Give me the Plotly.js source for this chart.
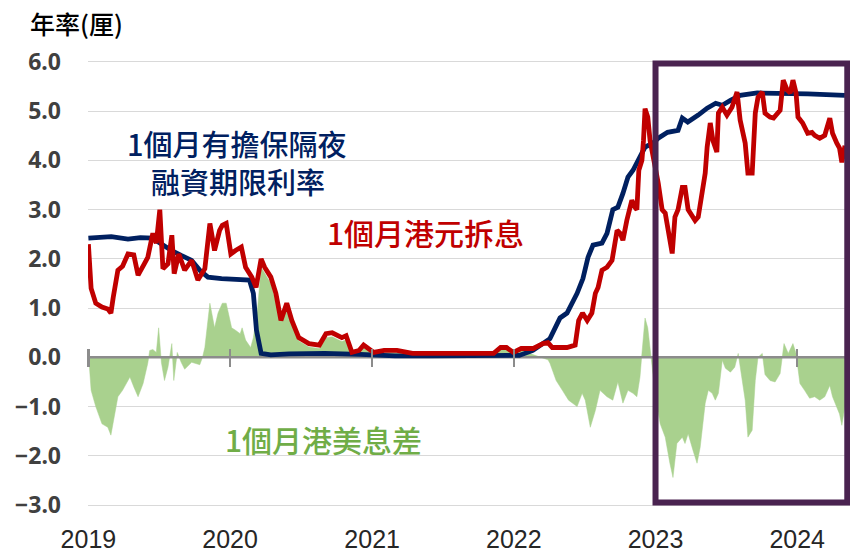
<!DOCTYPE html>
<html>
<head>
<meta charset="utf-8">
<script src="https://cdn.plot.ly/plotly-3.0.1.min.js"></script>
<style>html,body{margin:0;padding:0;background:#fff;}#chart{width:850px;height:556px;}</style>
</head>
<body>
<div id="chart"></div>
<script>
// 1個月港元拆息 (HIBOR 1M)
var hiborDates = ['2019-01-01','2019-01-08','2019-01-20','2019-02-05','2019-02-20','2019-02-28','2019-03-06','2019-03-18','2019-03-30','2019-04-13','2019-04-28','2019-05-09','2019-05-25','2019-06-03','2019-06-16','2019-06-25','2019-07-04','2019-07-12','2019-07-25','2019-08-04','2019-08-10','2019-08-22','2019-09-06','2019-09-24','2019-10-10','2019-10-28','2019-11-10','2019-11-22','2019-12-05','2019-12-12','2019-12-22',
'2020-01-03','2020-01-15','2020-01-30','2020-02-10','2020-02-26','2020-03-08','2020-03-21','2020-03-30','2020-04-15','2020-04-28','2020-05-11','2020-05-26','2020-06-08','2020-06-26','2020-07-22','2020-08-18','2020-09-04','2020-09-20','2020-10-15','2020-10-26','2020-11-10','2020-11-28','2020-12-10',
'2021-01-05','2021-02-01','2021-03-06','2021-04-15','2021-07-12','2021-11-10','2021-11-28','2021-12-13','2021-12-31',
'2022-01-20','2022-02-20','2022-03-17','2022-03-30','2022-04-10','2022-05-18','2022-06-08','2022-06-17','2022-06-27','2022-07-09','2022-07-21','2022-07-30','2022-08-06','2022-08-16','2022-08-29','2022-09-11','2022-09-24','2022-10-02','2022-10-09','2022-10-19','2022-11-01','2022-11-09','2022-11-14','2022-11-19','2022-11-27','2022-12-01','2022-12-05','2022-12-12','2022-12-18',
'2023-01-08','2023-01-18','2023-01-26','2023-02-02','2023-02-13','2023-02-20','2023-02-28','2023-03-11','2023-03-18','2023-03-26','2023-04-13','2023-04-21','2023-05-01','2023-05-09','2023-05-14','2023-05-22','2023-05-29','2023-06-08','2023-06-12','2023-06-22','2023-07-04','2023-07-17','2023-07-30','2023-08-07','2023-08-20','2023-08-27','2023-09-07','2023-09-15','2023-09-22','2023-10-03','2023-10-10','2023-10-23','2023-11-01','2023-11-10','2023-11-18','2023-11-26','2023-12-06','2023-12-14','2023-12-21','2023-12-29',
'2024-01-03','2024-01-15','2024-01-28','2024-02-08','2024-02-15','2024-02-28','2024-03-12','2024-03-25','2024-04-01','2024-04-12','2024-04-19','2024-04-25','2024-04-30','2024-05-03'];
var hiborVals = [2.30,1.40,1.10,1.02,0.98,0.90,1.22,1.77,1.85,2.10,2.08,1.67,1.90,2.03,2.52,2.32,3.00,1.80,1.90,2.48,1.70,2.10,1.77,1.97,1.57,1.80,2.72,2.17,2.58,2.68,2.72,
2.10,2.17,2.24,1.83,1.63,1.42,2.00,1.83,1.63,1.30,0.75,1.10,0.75,0.40,0.28,0.25,0.48,0.50,0.40,0.44,0.10,0.14,0.25,
0.10,0.14,0.14,0.08,0.08,0.08,0.20,0.20,0.10,
0.18,0.18,0.28,0.30,0.20,0.20,0.25,0.75,0.90,0.75,0.90,1.30,1.42,1.77,1.83,1.97,2.58,2.52,2.38,2.78,3.19,3.05,3.00,3.80,4.00,4.40,5.05,4.88,4.40,
3.54,3.00,2.93,2.58,2.11,2.85,3.00,3.45,3.45,3.00,2.78,2.85,3.33,3.74,4.27,4.76,4.40,4.17,4.96,5.08,4.92,5.08,5.39,4.82,4.35,3.74,3.74,4.96,5.28,5.39,4.96,4.88,4.86,4.96,5.02,5.63,5.43,5.37,5.63,5.37,
4.88,4.76,4.55,4.57,4.51,4.45,4.51,4.86,4.55,4.35,4.25,3.96,4.27,4.30];

// 1個月有擔保隔夜融資期限利率 (Term SOFR 1M)
var sofrDates = ['2019-01-01','2019-03-01','2019-04-13','2019-05-15','2019-06-15','2019-07-04','2019-08-01','2019-08-28','2019-09-24','2019-10-15','2019-11-05','2019-12-10','2020-01-15','2020-02-20','2020-03-01','2020-03-09','2020-03-21','2020-04-15','2020-06-01','2020-09-01','2020-12-01','2021-03-01','2021-06-01','2021-09-01','2021-12-01','2022-01-15','2022-02-19','2022-03-17','2022-04-04','2022-04-30','2022-05-18','2022-06-13','2022-06-21','2022-06-28','2022-07-11','2022-07-24','2022-08-16','2022-08-29','2022-09-13','2022-09-26','2022-10-09','2022-10-22','2022-11-04','2022-11-22','2022-12-05','2022-12-25','2023-01-08','2023-02-01','2023-02-28','2023-03-11','2023-03-25','2023-04-21','2023-05-14','2023-06-05','2023-06-22','2023-07-13','2023-08-07','2023-09-20','2023-11-01','2024-01-28','2024-05-03'];
var sofrVals = [2.42,2.45,2.40,2.43,2.42,2.32,2.18,2.07,1.97,1.77,1.63,1.60,1.58,1.57,1.30,0.55,0.08,0.05,0.07,0.08,0.06,0.03,0.03,0.04,0.05,0.04,0.14,0.30,0.38,0.80,0.90,1.30,1.50,1.60,2.03,2.28,2.32,2.52,3.00,3.05,3.33,3.66,3.80,4.07,4.27,4.35,4.45,4.57,4.61,4.86,4.78,4.92,5.06,5.16,5.12,5.22,5.32,5.37,5.37,5.35,5.32];

// 1個月港美息差 (spread)
var spreadDates = ['2019-01-01','2019-01-03','2019-01-08','2019-01-20','2019-02-05','2019-02-20','2019-02-28','2019-03-12','2019-03-18','2019-03-30','2019-04-18','2019-04-28','2019-05-09','2019-05-22','2019-06-03','2019-06-08','2019-06-16','2019-06-25','2019-07-01','2019-07-08','2019-07-16','2019-07-25','2019-08-04','2019-08-09','2019-08-18','2019-08-28','2019-09-06','2019-09-24','2019-10-15','2019-10-22','2019-10-28','2019-11-10','2019-11-22','2019-12-01','2019-12-12','2019-12-22',
'2020-01-05','2020-01-15','2020-01-27','2020-02-01','2020-02-10','2020-02-23','2020-03-01','2020-03-12','2020-03-21','2020-04-15','2020-05-05','2020-05-26','2020-06-08','2020-06-26','2020-07-22','2020-08-18','2020-09-04','2020-09-20','2020-10-15','2020-10-26','2020-11-10','2020-11-28','2020-12-10',
'2021-01-05','2021-02-01','2021-03-06','2021-04-15','2021-11-10','2021-11-28','2021-12-13','2021-12-31',
'2022-01-20','2022-02-20','2022-03-17','2022-03-30','2022-04-04','2022-04-20','2022-05-06','2022-05-22','2022-06-13','2022-06-26','2022-07-04','2022-07-17','2022-07-30','2022-08-11','2022-08-29','2022-09-13','2022-09-26','2022-10-09','2022-10-22','2022-11-04','2022-11-14','2022-11-22','2022-11-27','2022-12-05','2022-12-12','2022-12-20',
'2023-01-01','2023-01-13','2023-01-26','2023-02-07','2023-02-15','2023-02-25','2023-03-11','2023-03-18','2023-03-26','2023-04-08','2023-04-18','2023-04-26','2023-05-09','2023-05-17','2023-05-27','2023-06-04','2023-06-12','2023-06-22','2023-06-30','2023-07-13','2023-07-24','2023-08-02','2023-08-12','2023-08-20','2023-08-27','2023-09-07','2023-09-15','2023-09-22','2023-10-03','2023-10-10','2023-10-23','2023-11-05','2023-11-18','2023-11-28','2023-12-09','2023-12-21','2023-12-29',
'2024-01-08','2024-01-20','2024-02-02','2024-02-15','2024-02-28','2024-03-12','2024-03-25','2024-04-01','2024-04-12','2024-04-19','2024-04-25','2024-04-30','2024-05-03'];
var spreadVals = [0.00,-0.12,-0.67,-1.00,-1.35,-1.42,-1.58,-1.08,-0.80,-0.67,-0.40,-0.60,-0.80,-0.53,-0.12,0.14,0.16,0.10,0.60,-0.10,-0.47,-0.20,0.28,-0.47,0.10,-0.10,-0.24,-0.10,-0.15,0.00,0.20,1.10,0.60,0.90,1.10,1.10,
0.60,0.55,0.48,0.60,0.35,0.20,0.40,1.00,1.83,1.50,0.90,1.00,0.68,0.33,0.21,0.18,0.40,0.42,0.32,0.36,0.04,0.08,0.19,
0.06,0.10,0.10,0.05,0.04,0.15,0.15,0.05,
0.14,0.06,-0.02,-0.05,-0.12,-0.47,-0.67,-0.87,-1.00,-0.73,-0.87,-1.42,-1.08,-0.67,-0.80,-0.87,-0.50,-0.93,-0.67,-0.73,-0.80,-0.40,0.08,0.80,0.60,0.00,
-0.80,-1.35,-1.62,-2.15,-2.44,-1.75,-1.62,-1.75,-1.55,-1.90,-2.15,-1.83,-0.93,-0.67,-0.73,-0.87,-0.73,-0.06,-0.22,-0.30,-0.20,0.08,-0.47,-0.87,-1.62,-1.48,-0.47,0.00,0.08,-0.35,-0.47,-0.50,-0.33,0.28,0.08,0.28,0.08,
-0.53,-0.67,-0.83,-0.80,-0.87,-0.80,-0.57,-0.80,-1.00,-1.15,-1.38,-1.15,-1.00];

var yTickVals = [-3,-2,-1,0,1,2,3,4,5,6];
var xRange = ['2018-12-31', '2024-05-16'];

// geometry helpers (pixel -> paper)
var L = 88, W = 762, T = 57, H = 453;
function px(x){ return (x - L) / W; }
function py(y){ return (T + H - y) / H; }

var cjk = '"Noto Sans CJK TC", "Noto Sans CJK SC", sans-serif';

var traces = [
  {x: spreadDates, y: spreadVals, type: 'scatter', mode: 'lines', fill: 'tozeroy', xaxis: 'x', yaxis: 'y',
   fillcolor: '#a9d18e', line: {color: '#a9d18e', width: 0.5}, hoverinfo: 'skip'},
  {x: [spreadDates[0], hiborDates[hiborDates.length-1]], y: [0, 0], type: 'scatter', mode: 'lines', xaxis: 'x2', yaxis: 'y',
   line: {color: '#8c8c8c', width: 2.5}, hoverinfo: 'skip'},
  {x: sofrDates, y: sofrVals, type: 'scatter', mode: 'lines', xaxis: 'x2', yaxis: 'y',
   line: {color: '#002060', width: 4.8}, hoverinfo: 'skip'},
  {x: hiborDates, y: hiborVals, type: 'scatter', mode: 'lines', xaxis: 'x2', yaxis: 'y',
   line: {color: '#c00000', width: 4.8}, hoverinfo: 'skip'}
];

var layout = {
  width: 850, height: 556,
  margin: {l: L, r: 850 - L - W, t: T, b: 556 - T - H},
  paper_bgcolor: '#ffffff', plot_bgcolor: '#ffffff',
  showlegend: false, hovermode: false,
  title: {text: '年率(厘)', x: 30/850, xanchor: 'left', xref: 'container',
          y: 1 - 25/556, yanchor: 'middle', yref: 'container',
          font: {family: cjk, size: 25, color: '#000000', weight: 500}},
  xaxis: {type: 'date', range: xRange,
          tick0: '2019-01-01', dtick: 'M12', tickformat: '%Y',
          showgrid: false, zeroline: false, showline: false, ticks: '',
          ticklabelstandoff: 12,
          tickfont: {family: '"Liberation Sans Narrow", "Liberation Sans", sans-serif', size: 25, color: '#262626'}},
  xaxis2: {type: 'date', overlaying: 'x', range: xRange, anchor: 'free',
           position: (3.1 + 9/49.2) / 9.2, side: 'bottom',
           tick0: '2019-01-01', dtick: 'M12', ticks: 'outside', ticklen: 18, tickwidth: 2.5,
           tickcolor: '#8c8c8c', showticklabels: false, showgrid: false, zeroline: false, showline: false},
  yaxis: {range: [-3.1, 6.1], tickvals: yTickVals, tickformat: '.1f',
          showgrid: true, gridcolor: '#d9d9d9', gridwidth: 1, zeroline: false, showline: false, ticks: '',
          ticklabelstandoff: 26,
          tickfont: {family: '"Noto Sans", "Open Sans", sans-serif', size: 23, color: '#404040', weight: 'bold'}},
  shapes: [
    {type: 'rect', xref: 'x', yref: 'y', x0: '2023-01-01', x1: '2024-05-09', y0: -2.95, y1: 5.97,
     line: {color: '#4a2350', width: 6}, fillcolor: 'rgba(0,0,0,0)', layer: 'above'}
  ],
  annotations: [
    {text: '1個月有擔保隔夜', xref: 'paper', yref: 'paper', x: px(237), y: py(143), xanchor: 'center', yanchor: 'middle',
     showarrow: false, font: {family: cjk, size: 29, color: '#002060', weight: 500}},
    {text: '融資期限利率', xref: 'paper', yref: 'paper', x: px(238), y: py(181), xanchor: 'center', yanchor: 'middle',
     showarrow: false, font: {family: cjk, size: 29, color: '#002060', weight: 500}},
    {text: '1個月港元拆息', xref: 'paper', yref: 'paper', x: px(425), y: py(232), xanchor: 'center', yanchor: 'middle',
     showarrow: false, font: {family: cjk, size: 30, color: '#c00000', weight: 500}},
    {text: '1個月港美息差', xref: 'paper', yref: 'paper', x: px(323), y: py(439), xanchor: 'center', yanchor: 'middle',
     showarrow: false, font: {family: cjk, size: 30, color: '#70ad47', weight: 500}}
  ]
};

Plotly.newPlot('chart', traces, layout, {displayModeBar: false, staticPlot: true});
</script>
</body>
</html>
